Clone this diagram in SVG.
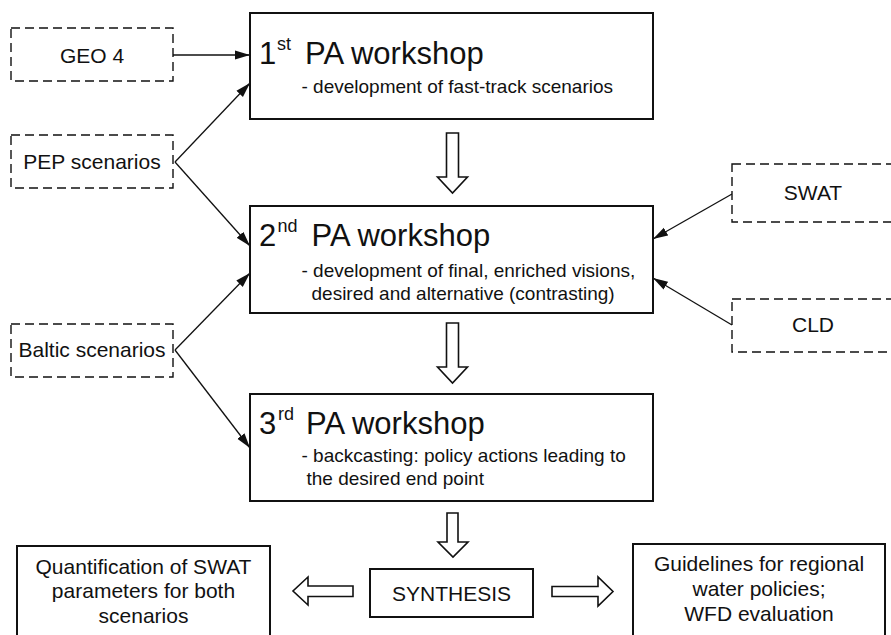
<svg xmlns="http://www.w3.org/2000/svg" width="891" height="635" viewBox="0 0 891 635">
  <defs>
    <marker id="head" markerUnits="userSpaceOnUse" markerWidth="15" markerHeight="10" refX="15" refY="5" orient="auto">
      <path d="M0,0.5 L15,5 L0,9.5 z" fill="#111"/>
    </marker>
  </defs>
  <style>
    .solid { fill: #fff; stroke: #111; stroke-width: 2; }
    .dash { fill: #fff; stroke: #111; stroke-width: 1.4; stroke-dasharray: 9 5; }
    .hollow { fill: #fff; stroke: #111; stroke-width: 1.6; stroke-linejoin: miter; }
    .link { fill: none; stroke: #111; stroke-width: 1.3; marker-end: url(#head); }
    text { font-family: "Liberation Sans", Arial, sans-serif; fill: #111; }
    .lbl { font-size: 21px; text-anchor: middle; }
    .ttl { font-size: 31px; }
    .sup { font-size: 18px; }
    .sub { font-size: 19px; }
  </style>
  <rect width="891" height="635" fill="#fff"/>

  <!-- connectors -->
  <g id="connectors">
    <line class="link" x1="173" y1="55" x2="250" y2="55"/>
    <line class="link" x1="175" y1="162" x2="250" y2="83"/>
    <line class="link" x1="175" y1="162" x2="250" y2="246"/>
    <line class="link" x1="175" y1="350" x2="250" y2="273"/>
    <line class="link" x1="175" y1="350" x2="250" y2="448"/>
    <line class="link" x1="732" y1="194" x2="653" y2="239"/>
    <line class="link" x1="732" y1="325" x2="653" y2="278"/>
    <!-- block arrows -->
    <polygon class="hollow" points="446.5,133 458.5,133 458.5,177 467.5,177 452.5,193 437.5,177 446.5,177"/>
    <polygon class="hollow" points="446.5,323 458.5,323 458.5,367 467.5,367 452.5,383 437.5,367 446.5,367"/>
    <polygon class="hollow" points="447,513 458,513 458,542 468,542 453,557 438,542 447,542"/>
    <polygon class="hollow" points="353,586 353,596.5 308,596.5 308,605 293,591 308,577 308,586"/>
    <polygon class="hollow" points="552,586.5 552,596.5 598,596.5 598,606 613,591.5 598,577 598,586.5"/>
  </g>

  <!-- inputs -->
  <g id="geo4">
    <rect class="dash" x="11" y="28" width="162" height="53"/>
    <text class="lbl" x="92" y="62.5">GEO 4</text>
  </g>
  <g id="pep">
    <rect class="dash" x="11" y="135" width="162" height="53"/>
    <text class="lbl" x="92" y="168.5">PEP scenarios</text>
  </g>
  <g id="baltic">
    <rect class="dash" x="11" y="324" width="162" height="53"/>
    <text class="lbl" x="92" y="357">Baltic scenarios</text>
  </g>
  <g id="swat">
    <rect class="dash" x="732" y="164" width="170" height="58"/>
    <text class="lbl" x="813" y="199.5">SWAT</text>
  </g>
  <g id="cld">
    <rect class="dash" x="732" y="299" width="170" height="53"/>
    <text class="lbl" x="813" y="332">CLD</text>
  </g>

  <!-- workshops -->
  <g id="ws1">
    <rect class="solid" x="250" y="13" width="403" height="106"/>
    <text class="ttl" x="259" y="63.5">1</text>
    <text class="sup" x="277" y="50">st</text>
    <text class="ttl" x="305" y="63.5">PA workshop</text>
    <text class="sub" x="301.5" y="93">- development of fast-track scenarios</text>
  </g>
  <g id="ws2">
    <rect class="solid" x="250" y="206" width="403" height="107"/>
    <text class="ttl" x="259" y="245.5">2</text>
    <text class="sup" x="277.5" y="232">nd</text>
    <text class="ttl" x="311.5" y="245.5">PA workshop</text>
    <text class="sub" x="301.5" y="277">- development of final, enriched visions,</text>
    <text class="sub" x="311.5" y="300">desired and alternative (contrasting)</text>
  </g>
  <g id="ws3">
    <rect class="solid" x="250" y="394" width="403" height="107"/>
    <text class="ttl" x="259" y="433.5">3</text>
    <text class="sup" x="278" y="420">rd</text>
    <text class="ttl" x="306" y="433.5">PA workshop</text>
    <text class="sub" x="301.5" y="462">- backcasting: policy actions leading to</text>
    <text class="sub" x="306.5" y="485">the desired end point</text>
  </g>

  <!-- outputs -->
  <g id="synthesis">
    <rect class="solid" x="370" y="569" width="163" height="48"/>
    <text class="lbl" x="451.5" y="600.5">SYNTHESIS</text>
  </g>
  <g id="quantification">
    <rect class="solid" x="17" y="546" width="253" height="100"/>
    <text class="lbl" x="143.5" y="573.5">Quantification of SWAT</text>
    <text class="lbl" x="143.5" y="598">parameters for both</text>
    <text class="lbl" x="143.5" y="622.5">scenarios</text>
  </g>
  <g id="guidelines">
    <rect class="solid" x="633" y="544" width="252" height="100"/>
    <text class="lbl" x="759" y="571">Guidelines for regional</text>
    <text class="lbl" x="759" y="596">water policies;</text>
    <text class="lbl" x="759" y="621">WFD evaluation</text>
  </g>
</svg>
